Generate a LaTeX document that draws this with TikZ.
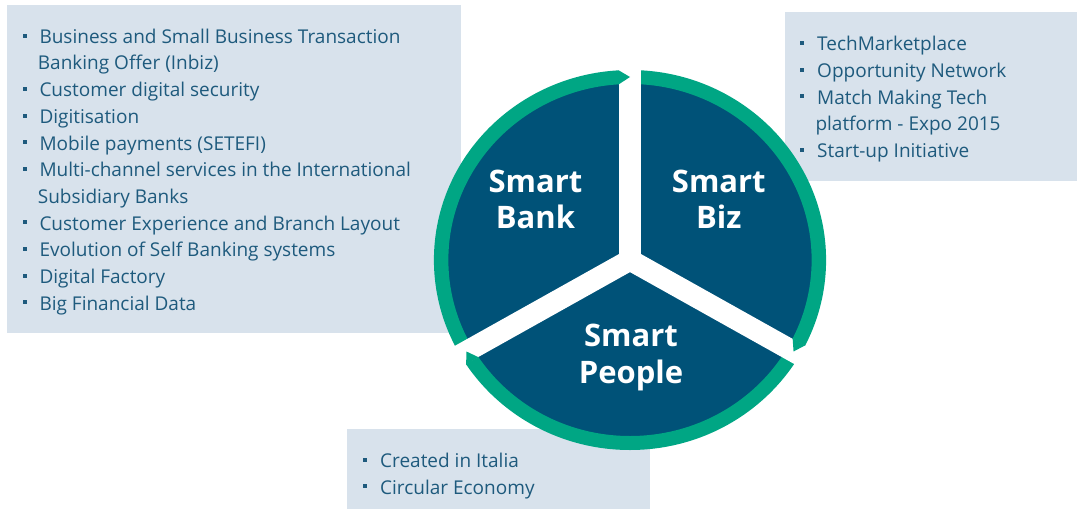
\documentclass[tikz,border=0pt]{standalone}
\usepackage{fontspec}
\setmainfont{Open Sans}
\definecolor{boxbg}{RGB}{216,226,236}
\definecolor{txt}{RGB}{30,90,125}
\definecolor{sector}{RGB}{0,82,120}
\definecolor{ring}{RGB}{0,166,132}
\begin{document}
\begin{tikzpicture}[x=1pt,y=-1pt,
  box/.style={fill=boxbg, draw=none, inner sep=0pt, outer sep=0pt, anchor=north west},
  item/.style={anchor=base west, inner sep=0pt, text=txt, font=\fontsize{19}{20}\selectfont},
  big/.style={anchor=base, inner sep=0pt, text=white, font=\fontsize{31}{36}\selectfont\bfseries},
  bullet/.style={fill=txt}]
\useasboundingbox (0,0) rectangle (1077,509);
\newcommand\bul[2]{\fill[bullet] ({#1-2},{#2-7.8-2}) rectangle ({#1+2},{#2-7.8+2});}
% boxes
\node[box, minimum width=454pt, minimum height=328pt] (bankbox) at (7,5) {};
\node[box, minimum width=292pt, minimum height=169pt] (bizbox) at (785,12) {};
\node[box, minimum width=303pt, minimum height=80pt] (peoplebox) at (347,429) {};
% circle
\begin{scope}[shift={(630,260)}, xscale=1.032, yscale=-1]
  \fill[sector] (0,0) circle (177);
  \fill[ring, even odd rule] (0,0) circle (190) (0,0) circle (176);
  \foreach \a in {90,-30,210}
    \fill[white] ({10.5*sin(\a)},{-10.5*cos(\a)})
      -- ({198*cos(\a)+10.5*sin(\a)},{198*sin(\a)-10.5*cos(\a)})
      -- ({198*cos(\a)-10.5*sin(\a)},{198*sin(\a)+10.5*cos(\a)})
      -- ({-10.5*sin(\a)},{10.5*cos(\a)}) -- cycle;
  \foreach \a in {90,-30,210}
    \fill[ring] ({175.6*cos(\a)-11*sin(\a)},{175.6*sin(\a)+11*cos(\a)})
      -- ({189.7*cos(\a)-11*sin(\a)},{189.7*sin(\a)+11*cos(\a)})
      -- (\a:183) -- cycle;
\end{scope}
% circle labels
\node[big] (bank1) at (535.4,192.3) {Smart};
\node[big] (bank2) at (535.4,228.3) {Bank};
\node[big] (biz1) at (718.8,192.3) {Smart};
\node[big] (biz2) at (718.8,228.3) {Biz};
\node[big] (ppl1) at (631,346.7) {Smart};
\node[big] (ppl2) at (631,383.3) {People};
% left box items
\bul{25.3}{43.3}   \node[item] (l0) at (39.3,43.3) {Business and Small Business Transaction};
                   \node[item] (l1) at (37.7,69.97) {Banking Offer (Inbiz)};
\bul{25.3}{96.6}   \node[item] (l2) at (39.3,96.6) {Customer digital security};
\bul{25.3}{123.3}  \node[item] (l3) at (39.3,123.3) {Digitisation};
\bul{25.3}{150}    \node[item] (l4) at (39.3,150) {Mobile payments (SETEFI)};
\bul{25.3}{176.6}  \node[item] (l5) at (39.3,176.6) {Multi-channel services in the International};
                   \node[item] (l6) at (37.7,203.3) {Subsidiary Banks};
\bul{25.3}{230}    \node[item] (l7) at (39.3,230) {Customer Experience and Branch Layout};
\bul{25.3}{256.6}  \node[item] (l8) at (39.3,256.6) {Evolution of Self Banking systems};
\bul{25.3}{283.3}  \node[item] (l9) at (39.3,283.3) {Digital Factory};
\bul{25.3}{310}    \node[item] (l10) at (39.3,310) {Big Financial Data};
% right box items
\bul{802.3}{50.7}  \node[item] (r0) at (817,50.7) {TechMarketplace};
\bul{802.3}{77.3}  \node[item] (r1) at (817,77.3) {Opportunity Network};
\bul{802.3}{104}   \node[item] (r2) at (817,104) {Match Making Tech};
                   \node[item] (r3) at (815.3,130.7) {platform - Expo 2015};
\bul{802.3}{157.3} \node[item] (r4) at (817,157.3) {Start-up Initiative};
% bottom box items
\bul{365}{467.3}   \node[item] (b0) at (380,467.3) {Created in Italia};
\bul{365}{494}     \node[item] (b1) at (380,494) {Circular Economy};
\end{tikzpicture}
\end{document}
